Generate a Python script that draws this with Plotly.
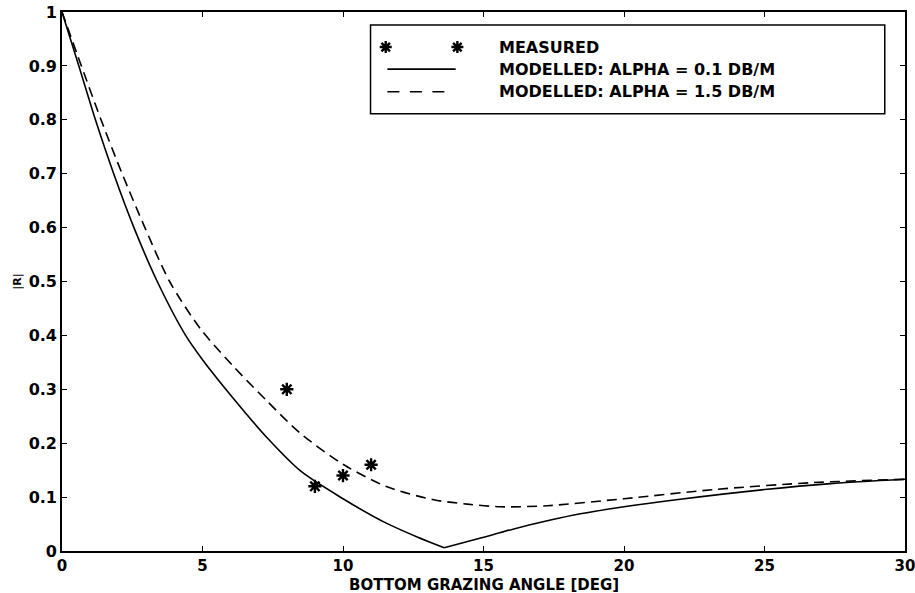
import plotly.graph_objects as go

# Modelled curve, alpha = 0.1 dB/m (solid) - falling branch and rising branch
solid_fall_x = [0, 0.6, 1.19, 1.84, 2.56, 3.39, 4.4, 5.0, 6.1, 7.3, 8.5, 10.0, 11.45, 12.64, 13.6]
solid_fall_y = [1.0, 0.9, 0.8, 0.7, 0.6, 0.5, 0.4, 0.355, 0.283, 0.21, 0.148, 0.097, 0.054, 0.026, 0.006]
solid_rise_x = [13.6, 14.9, 16.08, 17.27, 18.45, 20, 22, 25, 27.35, 30]
solid_rise_y = [0.006, 0.024, 0.041, 0.056, 0.069, 0.082, 0.096, 0.114, 0.125, 0.133]

# Modelled curve, alpha = 1.5 dB/m (dashed)
dash_x = [0, 0.69, 1.39, 2.14, 2.95, 3.83, 4.93, 6.11, 7.30, 8.49, 10.03, 11.57, 13.23, 14.42,
          15.6, 17.27, 20, 23.2, 26.76, 30]
dash_y = [1.0, 0.9, 0.8, 0.7, 0.6, 0.5, 0.412, 0.342, 0.278, 0.218, 0.16, 0.119, 0.095, 0.087,
          0.082, 0.084, 0.097, 0.114, 0.127, 0.133]

# Measured points
meas_x = [8, 9, 10, 11]
meas_y = [0.30, 0.12, 0.14, 0.16]

x_ticks = [0, 5, 10, 15, 20, 25, 30]
y_ticks = [0, 0.1, 0.2, 0.3, 0.4, 0.5, 0.6, 0.7, 0.8, 0.9, 1]
y_tick_labels = ["0", "0.1", "0.2", "0.3", "0.4", "0.5", "0.6", "0.7", "0.8", "0.9", "1"]

legend_labels = ["MEASURED", "MODELLED: ALPHA = 0.1 DB/M", "MODELLED: ALPHA = 1.5 DB/M"]

FONT = "DejaVu Sans, Liberation Sans, Arial, sans-serif"
LW = 1.6
DASH = "10px,6px"

fig = go.Figure()
fig.add_trace(go.Scatter(x=solid_fall_x, y=solid_fall_y, mode="lines", line_shape="spline",
                         line=dict(color="black", width=LW, smoothing=0.8), showlegend=False))
fig.add_trace(go.Scatter(x=solid_rise_x, y=solid_rise_y, mode="lines", line_shape="spline",
                         line=dict(color="black", width=LW, smoothing=0.8), showlegend=False))
fig.add_trace(go.Scatter(x=dash_x, y=dash_y, mode="lines", line_shape="spline",
                         line=dict(color="black", width=LW, dash=DASH, smoothing=0.8),
                         showlegend=False))
fig.add_trace(go.Scatter(x=meas_x, y=meas_y, mode="markers",
                         marker=dict(symbol="asterisk-open", size=11, color="black",
                                     line=dict(color="black", width=2.4)),
                         showlegend=False))

# custom legend drawn in paper space
lg_left, lg_right, lg_top, lg_bot = 0.366, 0.976, 0.976, 0.811
row_y = [0.935, 0.894, 0.852]
fig.add_trace(go.Scatter(x=[0.384, 0.469], y=[row_y[0], row_y[0]], mode="markers",
                         xaxis="x2", yaxis="y2",
                         marker=dict(symbol="asterisk-open", size=10, color="black",
                                     line=dict(color="black", width=2.4)),
                         showlegend=False, hoverinfo="skip"))
shapes = [
    dict(type="rect", xref="paper", yref="paper", x0=lg_left, x1=lg_right, y0=lg_bot, y1=lg_top,
         line=dict(color="black", width=1.5), fillcolor="white", layer="below"),
    dict(type="line", xref="paper", yref="paper", x0=0.386, x1=0.467, y0=row_y[1], y1=row_y[1],
         line=dict(color="black", width=LW)),
    dict(type="line", xref="paper", yref="paper", x0=0.386, x1=0.4537, y0=row_y[2], y1=row_y[2],
         line=dict(color="black", width=LW, dash="12px,10.5px")),
]
annotations = []
for lbl, ry in zip(legend_labels, row_y):
    annotations.append(dict(text="<b>" + lbl + "</b>", xref="paper", yref="paper", x=0.516, y=ry,
                            xanchor="left", yanchor="middle", showarrow=False,
                            font=dict(family=FONT, size=16, color="black")))
annotations.append(dict(text="<b>BOTTOM GRAZING ANGLE [DEG]</b>", xref="paper", yref="paper",
                        x=0.5, y=-0.0625, xanchor="center", yanchor="middle", showarrow=False,
                        font=dict(family=FONT, size=15, color="black")))
annotations.append(dict(text="<b>|R|</b>", xref="paper", yref="paper", textangle=-90,
                        x=-0.053, y=0.5, xanchor="center", yanchor="middle", showarrow=False,
                        font=dict(family=FONT, size=11, color="black")))

fig.update_layout(
    width=915, height=593,
    margin=dict(l=61.5, r=10, t=12, b=42, autoexpand=False),
    plot_bgcolor="white", paper_bgcolor="white",
    font=dict(family=FONT, size=15, color="black"),
    shapes=shapes, annotations=annotations,
    xaxis=dict(range=[0, 30], tickvals=x_ticks, ticktext=["<b>%d</b>" % v for v in x_ticks],
               ticks="inside", ticklen=5, tickwidth=1.2, tickcolor="black", automargin=False,
               ticklabeloverflow="allow",
               showline=True, linecolor="black", linewidth=1.6, mirror="ticks",
               showgrid=False, zeroline=False, tickfont=dict(family=FONT, size=15)),
    yaxis=dict(range=[0, 1], tickvals=y_ticks, ticktext=["<b>%s</b>" % t for t in y_tick_labels],
               ticks="inside", ticklen=5, tickwidth=1.2, tickcolor="black", automargin=False,
               ticklabeloverflow="allow",
               showline=True, linecolor="black", linewidth=1.6, mirror="ticks",
               showgrid=False, zeroline=False, tickfont=dict(family=FONT, size=16)),
    xaxis2=dict(range=[0, 1], overlaying="x", visible=False),
    yaxis2=dict(range=[0, 1], overlaying="y", visible=False),
)

fig.write_html("out.html", config={"displayModeBar": False},
               post_script="document.body.style.margin='0';document.body.style.overflow='hidden';")
